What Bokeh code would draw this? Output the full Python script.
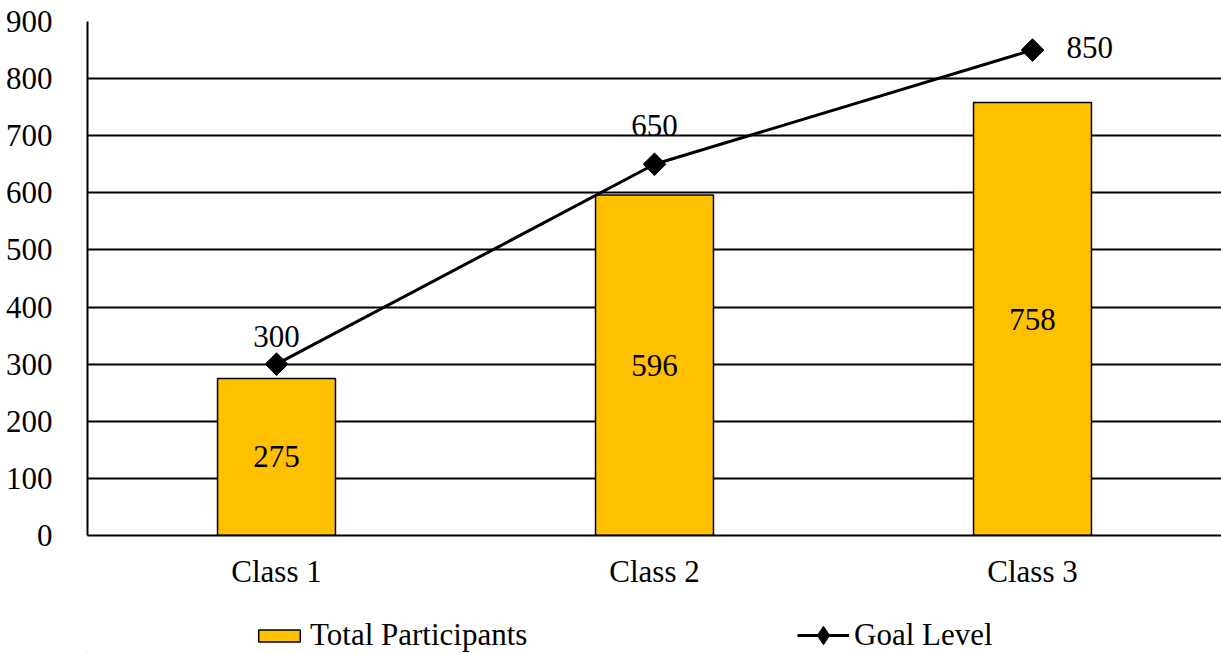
from bokeh.plotting import figure
from bokeh.models import ColumnDataSource, FixedTicker, Legend, LegendItem, Range1d
from bokeh.layouts import column
from bokeh.core.properties import value
from bokeh.embed import file_html
from bokeh.resources import INLINE
import math

categories = ["Class 1", "Class 2", "Class 3"]
participants = [275, 596, 758]
goal = [300, 650, 850]
y_ticks = [0, 100, 200, 300, 400, 500, 600, 700, 800, 900]
series_names = ["Total Participants", "Goal Level"]

FONT = "Liberation Serif"
FS = "31px"
BAR_COLOR = "#FFC000"

p = figure(x_range=categories, y_range=Range1d(0, 900), width=1221, height=600,
           output_backend="svg", toolbar_location=None,
           min_border_left=87, min_border_right=0, min_border_top=21, min_border_bottom=65)
p.outline_line_color = None
p.background_fill_color = "white"

src = ColumnDataSource(dict(cat=categories, part=participants, goal=goal,
                            part_txt=[str(v) for v in participants],
                            half=[v / 2 for v in participants]))

bars = p.vbar(x="cat", top="part", width=0.312, source=src, fill_color=BAR_COLOR,
              line_color="black", line_width=1.5)
line = p.line(x="cat", y="goal", source=src, line_color="black", line_width=3)
pts = p.scatter(x="cat", y="goal", source=src, marker="square", angle=math.pi / 4, size=16,
                fill_color="black", line_color="black")

# bar labels
p.text(x="cat", y="half", text="part_txt", source=src, text_align="center",
       text_baseline="middle", text_font=value(FONT), text_font_size=FS, text_color="black")

# goal labels (Excel-like placement: above, above, right)
label_offsets = [(0, -28), (0, -39), (34, -3)]
label_aligns = ["center", "center", "left"]
for i, cat in enumerate(categories):
    s = ColumnDataSource(dict(cat=[cat], goal=[goal[i]], t=[str(goal[i])]))
    p.text(x="cat", y="goal", text="t", source=s, text_align=label_aligns[i],
           text_baseline="middle", x_offset=label_offsets[i][0], y_offset=label_offsets[i][1],
           text_font=value(FONT), text_font_size=FS, text_color="black")

# grid
p.xgrid.grid_line_color = None
p.ygrid.grid_line_color = "black"
p.ygrid.grid_line_width = 2
p.ygrid.grid_line_alpha = 1
p.yaxis.ticker = FixedTicker(ticks=y_ticks)

for ax in (p.xaxis, p.yaxis):
    ax.axis_line_color = "black"
    ax.axis_line_width = 2
    ax.major_tick_line_color = None
    ax.minor_tick_line_color = None
    ax.major_label_text_font = FONT
    ax.major_label_text_font_size = FS
    ax.major_label_text_color = "black"
p.yaxis.major_label_standoff = 29
p.xaxis.major_label_standoff = 12

# ---- legend strip (separate figure below) ----
lg = figure(width=1221, height=53, x_range=Range1d(0, 1), y_range=Range1d(0, 1),
            output_backend="svg", toolbar_location=None, x_axis_type=None, y_axis_type=None,
            min_border_left=87, min_border_right=0, min_border_top=0, min_border_bottom=0)
lg.outline_line_color = None
lg.xgrid.grid_line_color = None
lg.ygrid.grid_line_color = None
# legend-only renderers placed outside the visible range
hidden = ColumnDataSource(dict(x=[-10, -11], y=[-10, -10], top=[-10, -10]))
lb = lg.vbar(x="x", top="top", width=0.1, source=hidden, fill_color=BAR_COLOR,
             line_color="black", line_width=1.5)
ll = lg.line(x="x", y="y", source=hidden, line_color="black", line_width=3)
lm = lg.scatter(x="x", y="y", source=hidden, marker="diamond", size=16,
                fill_color="black", line_color="black")

common = dict(orientation="horizontal", label_text_font=FONT, label_text_font_size=FS,
              label_text_color="black", glyph_width=52, label_standoff=5,
              border_line_color=None, background_fill_alpha=0, padding=0, margin=0,
              label_text_baseline="middle")
leg1 = Legend(items=[LegendItem(label=series_names[0], renderers=[lb])],
              location=(166, 0), glyph_height=15, **common)
leg2 = Legend(items=[LegendItem(label=series_names[1], renderers=[ll, lm])],
              location=(710, -5), glyph_height=46, **common)
lg.add_layout(leg1, "center")
lg.add_layout(leg2, "center")

layout = column(p, lg, spacing=0)
open("out.html", "w").write(file_html(layout, INLINE))
